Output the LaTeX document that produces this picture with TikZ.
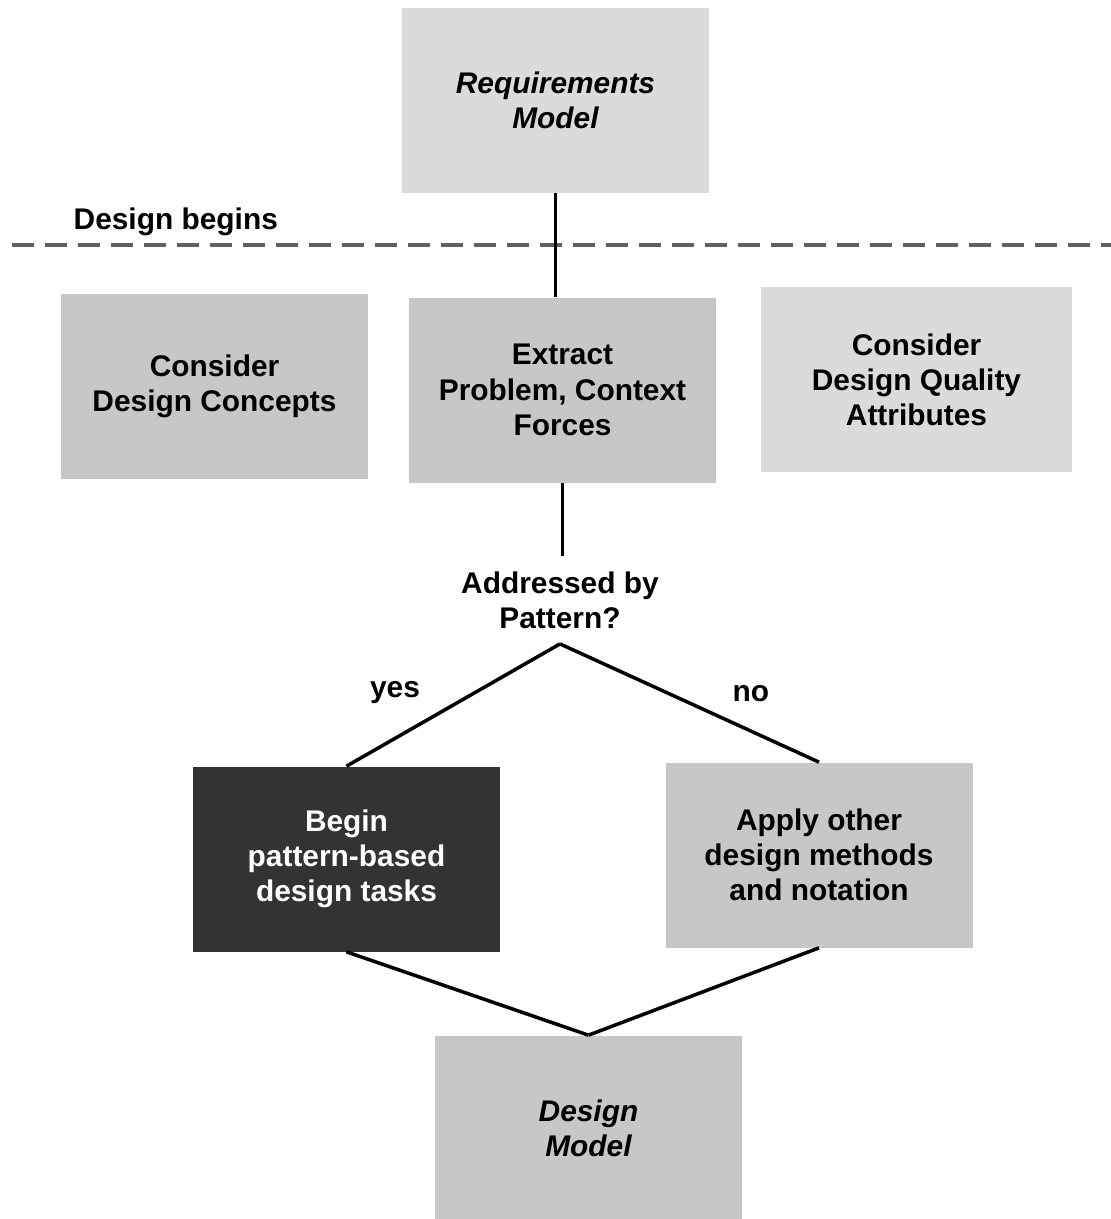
\documentclass[tikz,border=0pt]{standalone}
\usepackage{fontspec}
\setmainfont{Liberation Sans}
\usepackage{tikz}
\usetikzlibrary{positioning}
\definecolor{boxgray}{rgb}{0.78, 0.78, 0.78}
\definecolor{palegray}{rgb}{0.86, 0.86, 0.86}
\definecolor{darkbox}{rgb}{0.2, 0.2, 0.2}
\definecolor{rulegray}{rgb}{0.38, 0.38, 0.38}

\begin{document}
\begin{tikzpicture}[
    % Flat gray boxes without a border
    task/.style={
        fill=boxgray,
        minimum width=6.14cm,
        minimum height=3.7cm,
        align=center,
        font=\fontsize{17}{20}\selectfont\bfseries
    },
    % Model boxes get italic text
    model/.style={
        task,
        font=\fontsize{17}{20}\selectfont\bfseries\itshape
    },
    flowtext/.style={font=\fontsize{17}{20}\selectfont\bfseries, align=center},
    link/.style={draw=black, line width=2pt},
    divider/.style={draw=rulegray, line width=2.4pt, dash pattern=on 0.44cm off 0.22cm}
]
    \useasboundingbox (0,0) rectangle (22.22,-24.38);

    % --- boxes ---
    \node(req)[model, fill=palegray] at (11.11, -2.0) {Requirements\\Model};
    \node(concepts)[task] at (4.29, -7.72) {Consider\\Design Concepts};
    \node(extract)[task] at (11.25, -7.8) {Extract\\Problem, Context\\Forces};
    \node(quality)[task, fill=palegray, minimum width=6.22cm] at (18.33, -7.59) {Consider\\Design Quality\\Attributes};
    \node(question)[flowtext, inner ysep=0.3cm] at (11.2, -12.0) {Addressed by\\Pattern?};
    \node(patterns)[task, fill=darkbox, text=white] at (6.93, -17.18) {Begin\\pattern-based\\design tasks};
    \node(other)[task] at (16.38, -17.1) {Apply other\\design methods\\and notation};
    \node(design)[model] at (11.77, -22.56) {Design\\Model};

    % --- start of design ---
    \node(begins)[flowtext, anchor=west] at (1.35, -4.44) {Design begins};
    \coordinate (cut-left) at (0.24, -4.9);
    \coordinate (cut-right) at (22.22, -4.9);
    \draw[divider] (cut-left) -- (cut-right);

    % --- connectors ---
    \draw[link] (req.south) -- (req.south |- extract.north);
    \draw[link] (extract.south) -- (extract.south |- question.north);
    \draw[link] (question.south) -- (patterns.north)
        node[flowtext, pos=0.55, above left=0cm and 0.3cm] {yes};
    \draw[link] (question.south) -- (other.north)
        node[flowtext, pos=0.55, above right=0cm and 0.45cm] {no};
    \draw[link] (patterns.south) -- (design.north);
    \draw[link] (other.south) -- (design.north);
\end{tikzpicture}
\end{document}
